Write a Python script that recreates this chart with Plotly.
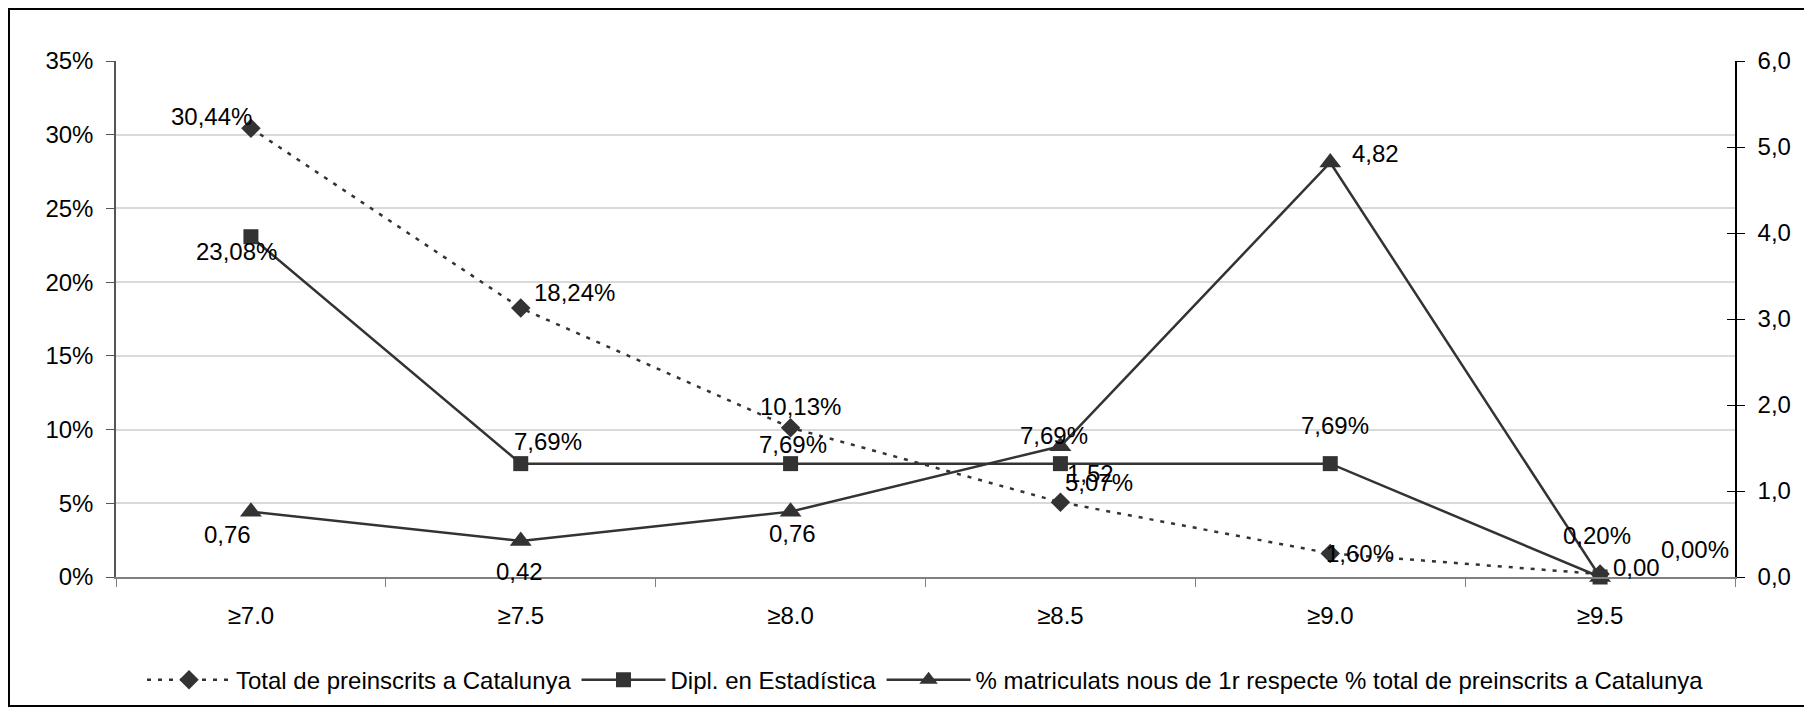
import plotly.graph_objects as go

# --- data ---
categories = ["≥7.0", "≥7.5", "≥8.0", "≥8.5", "≥9.0", "≥9.5"]
total_catalunya = [30.44, 18.24, 10.13, 5.07, 1.60, 0.20]      # % (left axis)
dipl_estadistica = [23.08, 7.69, 7.69, 7.69, 7.69, 0.00]      # % (left axis)
ratio_matriculats = [0.76, 0.42, 0.76, 1.52, 4.82, 0.00]      # right axis

names = [
    "Total de preinscrits a Catalunya",
    "Dipl. en Estadística",
    "% matriculats nous de 1r respecte % total de preinscrits a Catalunya",
]

# label offsets in px (dx right, dy down) relative to each point
total_off = [(-39, -12), (54, -16), (10, -21), (39, -20), (30, 0), (-3, -39)]
dipl_off = [(-14, 15), (27, -22), (2, -19), (-6, -28), (5, -38), (95, -28)]
ratio_off = [(-23, 23), (-1, 31), (2, 22), (30, 27), (45, -9), (36, -10)]

INK = "#333333"
FONT = "Liberation Sans, Arial, sans-serif"
FS = 24

fig = go.Figure()

fig.add_trace(go.Scatter(
    x=categories, y=total_catalunya, name=names[0], mode="lines+markers",
    line=dict(color=INK, width=2.5, dash="4px,7px"),
    marker=dict(symbol="diamond", size=15, color=INK), cliponaxis=False,
))
fig.add_trace(go.Scatter(
    x=categories, y=dipl_estadistica, name=names[1], mode="lines+markers",
    line=dict(color=INK, width=2.5),
    marker=dict(symbol="square", size=15, color=INK), cliponaxis=False,
))
fig.add_trace(go.Scatter(
    x=categories, y=ratio_matriculats, name=names[2], mode="lines+markers",
    yaxis="y2",
    line=dict(color=INK, width=2.5),
    marker=dict(symbol="triangle-up", size=19, color=INK), cliponaxis=False,
))
# dummy trace so the inner tick axis is drawn
fig.add_trace(go.Scatter(x=categories, y=[None] * len(categories), yaxis="y3",
                         showlegend=False, hoverinfo="skip"))


def fmt(v, pct):
    s = f"{v:.2f}".replace(".", ",")
    return s + "%" if pct else s


annotations = []
for vals, offs, yref, pct in [
    (total_catalunya, total_off, "y", True),
    (dipl_estadistica, dipl_off, "y", True),
    (ratio_matriculats, ratio_off, "y2", False),
]:
    for cat, v, (dx, dy) in zip(categories, vals, offs):
        annotations.append(dict(
            x=cat, y=v, xref="x", yref=yref, text=fmt(v, pct), showarrow=False,
            xshift=dx, yshift=-dy, font=dict(size=FS, color="black", family=FONT),
        ))

# page body has an 8px margin, so the margins below are shifted by that much
fig.update_layout(
    width=1812, height=710,
    margin=dict(l=108, r=85, t=53, b=141),
    paper_bgcolor="white", plot_bgcolor="white",
    separators=",.",
    font=dict(family=FONT, size=FS, color="black"),
    xaxis=dict(
        type="category", range=[-0.5, 5.5], tickson="boundaries",
        ticks="outside", ticklen=8, tickcolor="#808080",
        showline=True, linecolor="#808080", linewidth=2,
        showgrid=False, zeroline=False, ticklabelstandoff=16,
    ),
    yaxis=dict(
        range=[0, 35], dtick=5, ticksuffix="%",
        ticks="outside", ticklen=8, tickcolor="#555555",
        showline=True, linecolor="#555555", linewidth=1.5,
        showgrid=True, gridcolor="#d9d9d9", gridwidth=1.5, zeroline=False,
        ticklabelstandoff=8,
    ),
    yaxis2=dict(
        range=[0, 6], dtick=1, tickformat=".1f", side="right", overlaying="y",
        ticks="outside", ticklen=8, tickcolor="black",
        showline=True, linecolor="black", linewidth=1.5,
        showgrid=False, zeroline=False, ticklabelstandoff=8,
    ),
    yaxis3=dict(
        range=[0, 6], dtick=1, side="right", overlaying="y", anchor="x",
        ticks="inside", ticklen=8, tickcolor="black",
        showticklabels=False, showline=False, showgrid=False, zeroline=False,
    ),
    legend=dict(
        orientation="h", x=0.5, xanchor="center", y=-0.2, yanchor="middle",
        font=dict(size=FS, family=FONT), itemwidth=84, bgcolor="rgba(0,0,0,0)",
    ),
    annotations=annotations,
    shapes=[dict(
        type="rect", xref="paper", yref="paper",
        x0=-0.0661, x1=1.0439, y0=-0.25, y1=1.1008,
        line=dict(color="black", width=2), fillcolor="rgba(0,0,0,0)", layer="below",
    )],
    showlegend=True,
)

fig.write_html("out.html")
